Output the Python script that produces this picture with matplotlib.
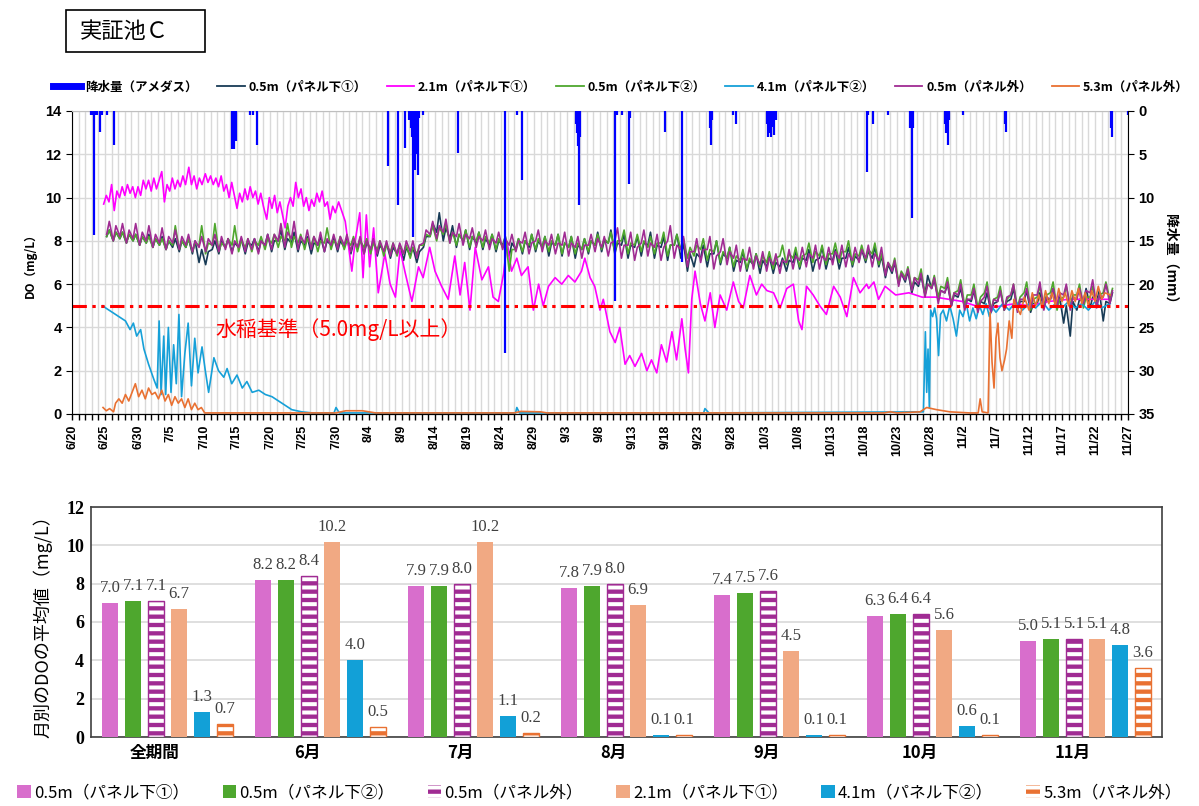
import numpy as np
import pandas as pd
import matplotlib
matplotlib.use('Agg')
import matplotlib.pyplot as plt
import matplotlib.dates as mdates
from matplotlib.patches import Rectangle
from matplotlib.lines import Line2D

plt.rcParams['font.family'] = ['Noto Sans CJK JP', 'DejaVu Sans']
plt.rcParams['hatch.linewidth'] = 2.9

NUM_FONT = ['Liberation Sans Narrow', 'Liberation Sans', 'DejaVu Sans']
SERIF = ['Liberation Serif', 'DejaVu Serif']

# ---------------- data: time series (day offset from 6/20) ----------------
base = pd.Timestamp('2023-06-20')

# hourly rain from AMeDAS (mm)
rain_day = [2.9, 3.1, 3.4, 3.6, 3.8, 4.2, 4.6, 5.3, 6.4, 24.3, 24.4, 24.6, 24.8,
            27.0, 27.4, 28.1, 47.9, 49.4, 50.5, 51.0, 51.3, 51.5, 51.7, 51.9,
            52.1, 52.4, 52.6, 53.2, 58.5, 65.6, 67.4, 68.2, 76.3, 76.5, 76.7,
            76.8, 77.0, 82.2, 82.6, 83.3, 84.4, 84.6, 89.8, 92.4, 96.7, 96.8,
            97.0, 100.1, 100.6, 105.3, 105.5, 105.7, 105.9, 106.1, 106.4, 106.6,
            120.4, 120.6, 121.3, 123.6, 126.9, 127.1, 127.3, 127.5, 132.3, 132.5,
            132.7, 132.9, 135.0, 141.3, 141.5, 157.4, 157.6, 160.0]
rain_mm = [0.5, 0.5, 14.3, 0.5, 0.5, 2.4, 0.5, 0.5, 3.9, 4.4, 4.0, 4.4, 3.5,
           0.5, 0.5, 3.9, 6.4, 10.9, 4.3, 1.0, 2.0, 3.0, 14.5, 6.8,
           5.0, 7.4, 0.8, 0.5, 4.9, 27.9, 0.5, 8.0, 1.5, 2.5, 4.0,
           10.9, 3.0, 22.0, 0.5, 0.5, 8.4, 0.8, 2.4, 17.4, 2.0, 3.9,
           1.0, 0.5, 1.5, 1.5, 3.0, 2.5, 3.0, 1.8, 2.8, 1.0,
           7.0, 0.5, 1.5, 0.5, 2.0, 1.5, 12.4, 2.0, 1.5, 2.5,
           3.9, 1.0, 0.5, 1.5, 2.4, 2.0, 3.0, 0.5]

# 0.5m sensors: daily afternoon peak (hi) and early-morning low (lo), from 6/25 (day 5)
p1_hi = [8.5, 8.4, 8.4, 8.3, 8.3, 8.2, 8.3, 8.1, 8.2, 8.0,
         8.1, 8.0, 8.1, 8.0, 7.6, 7.5, 8.0, 8.0, 8.1, 7.9,
         8.1, 7.9, 8.1, 8.0, 8.3, 8.0, 8.5, 8.1, 8.4, 8.0,
         8.2, 7.9, 8.2, 8.0, 8.2, 8.0, 8.1, 7.9, 8.1, 7.9,
         8.0, 7.8, 7.9, 7.7, 7.8, 7.7, 7.7, 7.5, 8.2, 8.8,
         9.3, 8.6, 8.7, 8.3, 8.5, 8.2, 8.4, 8.1, 8.3, 8.0,
         8.2, 7.9, 8.1, 8.0, 8.3, 8.0, 8.2, 7.9, 8.3, 7.9,
         8.2, 7.8, 8.1, 8.0, 8.4, 8.0, 8.5, 7.9, 8.3, 7.8,
         8.2, 7.9, 8.4, 7.8, 8.2, 7.8, 8.3, 7.9, 7.4, 7.4,
         7.8, 7.4, 8.0, 7.4, 7.7, 7.1, 7.5, 7.1, 7.4, 7.1,
         7.3, 7.0, 7.2, 7.1, 7.5, 7.2, 7.6, 7.1, 7.7, 7.2,
         7.6, 7.2, 7.7, 7.3, 7.6, 7.5, 7.7, 7.3, 6.9, 7.0,
         6.5, 6.6, 6.1, 6.4, 6.4, 6.2, 5.7, 6.0, 5.5, 5.8,
         5.3, 5.7, 5.2, 5.6, 5.1, 5.7, 5.2, 5.8, 5.2, 5.7,
         5.1, 5.6, 5.3, 5.8, 5.4, 5.0, 5.2, 5.3, 5.8, 5.4,
         5.7, 5.2, 5.6]
p1_lo = [8.2, 8.0, 8.1, 7.9, 8.0, 7.8, 7.9, 7.7, 7.8, 7.6,
         7.7, 7.5, 7.7, 7.4, 7.0, 6.9, 7.6, 7.4, 7.7, 7.5,
         7.7, 7.4, 7.8, 7.5, 7.8, 7.5, 8.0, 7.6, 7.9, 7.5,
         7.8, 7.4, 7.8, 7.5, 7.8, 7.5, 7.7, 7.4, 7.7, 7.4,
         7.6, 7.3, 7.5, 7.2, 7.4, 7.1, 7.3, 7.0, 7.7, 8.2,
         8.4, 8.0, 8.1, 7.7, 8.0, 7.6, 7.9, 7.6, 7.8, 7.5,
         7.8, 7.3, 7.6, 7.4, 7.7, 7.5, 7.7, 7.3, 7.8, 7.3,
         7.7, 7.2, 7.6, 7.4, 7.8, 7.5, 7.9, 7.4, 7.8, 7.2,
         7.7, 7.3, 7.8, 7.2, 7.7, 7.1, 7.8, 7.2, 6.6, 6.8,
         7.2, 6.8, 7.4, 6.9, 7.2, 6.6, 7.0, 6.6, 6.9, 6.5,
         6.8, 6.5, 6.8, 6.6, 7.0, 6.7, 7.1, 6.6, 7.2, 6.7,
         7.1, 6.7, 7.2, 6.8, 7.1, 7.0, 7.2, 6.8, 6.3, 6.5,
         6.0, 6.1, 5.6, 5.9, 5.5, 5.8, 5.3, 5.6, 5.0, 5.4,
         4.9, 5.2, 4.8, 5.1, 4.7, 5.2, 4.8, 5.3, 4.8, 5.2,
         4.7, 5.1, 4.9, 5.3, 4.9, 4.2, 3.6, 4.8, 5.2, 4.9,
         5.2, 4.3, 5.1]
p2_hi = [8.5, 8.4, 8.4, 8.3, 8.3, 8.2, 8.2, 8.1, 8.1, 8.0,
         8.7, 8.0, 8.1, 7.9, 8.7, 7.9, 8.8, 7.9, 8.1, 8.7,
         8.0, 8.1, 8.0, 8.2, 8.1, 8.3, 8.2, 8.8, 8.2, 8.3,
         8.1, 8.2, 8.0, 8.6, 8.0, 8.2, 8.0, 8.2, 8.0, 8.1,
         7.9, 8.0, 7.8, 7.9, 7.8, 7.8, 7.7, 7.8, 8.3, 8.7,
         8.6, 8.8, 8.4, 8.3, 8.5, 8.2, 8.4, 8.2, 8.3, 8.1,
         8.2, 7.6, 8.1, 8.0, 8.3, 8.1, 8.2, 8.0, 8.3, 7.9,
         8.2, 7.9, 8.1, 8.0, 8.3, 8.1, 8.4, 8.0, 8.5, 7.9,
         8.3, 8.0, 8.2, 7.9, 8.4, 7.8, 8.3, 8.1, 7.7, 7.8,
         8.1, 7.6, 8.0, 7.5, 7.7, 7.3, 7.6, 7.2, 7.4, 7.3,
         7.5, 7.2, 7.8, 7.4, 7.7, 7.3, 7.9, 7.5, 7.8, 7.4,
         7.9, 7.5, 8.0, 7.4, 7.8, 7.6, 7.9, 7.4, 7.0, 7.2,
         6.6, 6.8, 6.3, 6.7, 6.0, 6.4, 5.9, 6.3, 5.6, 6.2,
         5.5, 6.0, 5.4, 6.1, 5.3, 5.9, 5.3, 6.0, 5.4, 6.1,
         5.3, 5.9, 5.5, 6.1, 5.3, 5.9, 5.5, 6.0, 5.4, 5.9,
         5.5, 6.1, 5.8]
p2_lo = [8.2, 8.0, 8.1, 7.9, 8.0, 7.8, 7.9, 7.7, 7.8, 7.6,
         7.8, 7.6, 7.7, 7.5, 7.8, 7.4, 7.8, 7.5, 7.7, 7.8,
         7.5, 7.7, 7.5, 7.8, 7.6, 7.9, 7.7, 8.0, 7.7, 7.9,
         7.6, 7.8, 7.5, 7.9, 7.6, 7.8, 7.6, 7.8, 7.5, 7.7,
         7.4, 7.6, 7.3, 7.5, 7.3, 7.4, 7.2, 7.4, 7.8, 8.2,
         8.0, 8.3, 7.9, 7.8, 8.0, 7.7, 8.0, 7.7, 7.9, 7.6,
         7.7, 6.6, 7.6, 7.5, 7.8, 7.6, 7.7, 7.5, 7.8, 7.4,
         7.7, 7.4, 7.6, 7.5, 7.8, 7.6, 7.9, 7.5, 8.0, 7.4,
         7.8, 7.5, 7.7, 7.4, 7.9, 7.3, 7.8, 7.6, 7.2, 7.3,
         7.6, 7.1, 7.5, 7.0, 7.2, 6.8, 7.1, 6.7, 6.9, 6.8,
         7.0, 6.7, 7.3, 6.9, 7.2, 6.8, 7.4, 7.0, 7.3, 6.9,
         7.4, 7.0, 7.5, 6.9, 7.3, 7.1, 7.4, 6.9, 6.5, 6.7,
         6.1, 6.3, 5.8, 6.2, 5.5, 5.9, 5.4, 5.8, 5.1, 5.7,
         5.0, 5.5, 4.9, 5.6, 4.8, 5.4, 4.8, 5.5, 4.9, 5.6,
         4.8, 5.4, 5.0, 5.6, 4.8, 5.4, 5.0, 5.5, 4.9, 5.4,
         5.0, 5.6, 5.3]
out_hi = [8.9, 8.7, 8.8, 8.5, 8.8, 8.4, 8.7, 8.3, 8.6, 8.2,
          8.5, 8.2, 8.3, 8.0, 8.2, 8.1, 8.3, 8.2, 8.1, 8.0,
          8.2, 8.1, 8.1, 8.0, 8.3, 8.3, 8.8, 8.4, 8.9, 8.2,
          8.5, 8.2, 8.4, 8.1, 8.3, 8.2, 8.3, 8.1, 8.2, 8.0,
          8.1, 8.0, 8.0, 7.9, 7.9, 8.0, 8.0, 7.8, 8.5, 8.9,
          8.7, 9.0, 8.4, 8.8, 8.3, 8.6, 8.2, 8.5, 8.1, 8.4,
          8.1, 8.3, 8.0, 8.4, 7.9, 8.5, 8.0, 8.3, 7.9, 8.4,
          7.9, 8.2, 7.8, 8.3, 8.1, 8.2, 7.9, 8.6, 7.8, 8.4,
          7.7, 8.5, 7.9, 8.3, 7.7, 8.7, 7.8, 8.2, 7.5, 8.1,
          7.6, 8.2, 7.3, 8.1, 7.5, 7.8, 7.2, 7.7, 7.3, 7.5,
          7.2, 7.4, 7.1, 7.6, 7.3, 7.7, 7.4, 7.8, 7.3, 7.7,
          7.5, 7.8, 7.4, 7.7, 7.6, 7.8, 7.4, 7.7, 7.0, 7.1,
          6.5, 6.7, 6.3, 6.5, 6.0, 6.3, 5.7, 6.1, 5.6, 6.0,
          5.3, 5.8, 5.2, 5.9, 5.3, 5.7, 5.4, 6.0, 5.3, 5.8,
          5.5, 6.1, 5.4, 5.8, 5.6, 6.0, 5.4, 5.8, 5.7, 6.2,
          5.5, 6.0, 5.7]
out_lo = [8.3, 8.0, 8.2, 7.9, 8.1, 7.8, 8.0, 7.7, 7.9, 7.6,
          7.9, 7.6, 7.8, 7.5, 7.7, 7.5, 7.8, 7.5, 7.6, 7.4,
          7.7, 7.5, 7.6, 7.4, 7.8, 7.6, 8.0, 7.7, 8.1, 7.6,
          7.9, 7.6, 7.8, 7.5, 7.8, 7.6, 7.8, 7.5, 7.7, 7.4,
          7.6, 7.4, 7.5, 7.3, 7.4, 7.4, 7.5, 7.2, 7.9, 8.3,
          8.1, 8.4, 7.9, 8.2, 7.8, 8.1, 7.7, 8.0, 7.6, 7.9,
          7.6, 7.8, 7.5, 7.9, 7.4, 8.0, 7.5, 7.8, 7.4, 7.8,
          7.3, 7.7, 7.2, 7.8, 7.5, 7.7, 7.3, 8.0, 7.2, 7.8,
          7.1, 7.9, 7.3, 7.7, 7.1, 8.0, 7.2, 7.6, 6.8, 7.5,
          7.0, 7.6, 6.7, 7.5, 6.9, 7.2, 6.6, 7.1, 6.7, 6.9,
          6.6, 6.9, 6.5, 7.0, 6.7, 7.1, 6.8, 7.2, 6.7, 7.1,
          6.9, 7.2, 6.8, 7.1, 7.0, 7.2, 6.8, 7.1, 6.4, 6.6,
          5.9, 6.2, 5.7, 6.0, 5.4, 5.8, 5.1, 5.6, 5.0, 5.5,
          4.8, 5.3, 4.7, 5.4, 4.7, 5.2, 4.8, 5.5, 4.7, 5.3,
          4.9, 5.5, 4.8, 5.3, 5.0, 5.5, 4.8, 5.3, 5.1, 5.6,
          4.9, 5.4, 5.1]

# 2.1m (panel below 1)
d21_day = [4.8, 5.2, 5.6, 6.0, 6.4, 6.8, 7.2, 7.6, 8.0, 8.4, 8.8, 9.2, 9.6,
           10.0, 10.4, 10.8, 11.2, 11.6, 12.0, 12.4, 12.8, 13.2, 13.6, 14.0,
           14.4, 14.8, 15.2, 15.6, 16.0, 16.4, 16.8, 17.2, 17.7, 18.1, 18.5,
           18.9, 19.3, 19.7, 20.2, 20.6, 21.0, 21.4, 21.8, 22.2, 22.6, 23.0,
           23.4, 23.8, 24.2, 24.6, 25.0, 25.4, 25.8, 26.2, 26.6, 27.0, 27.4,
           27.8, 28.2, 28.6, 29.0, 29.5, 29.9, 30.3, 30.7, 31.1, 31.5, 31.9,
           32.3, 32.7, 33.1, 33.5, 33.9, 34.3, 34.7, 35.1, 35.5, 35.9, 36.3,
           36.7, 37.1, 37.5, 37.9, 38.3, 38.7, 39.1, 39.5, 39.9, 40.4, 41.4,
           42.4, 42.9, 43.6, 44.1, 44.6, 45.1, 45.7, 46.4, 47.4, 48.2, 49.0,
           49.7, 50.5, 51.5, 52.5, 53.2, 54.2, 55.0, 56.0, 57.0, 58.0, 58.8,
           59.5, 60.3, 61.1, 62.1, 63.1, 63.8, 64.6, 65.4, 65.9, 66.6, 67.4,
           68.1, 69.1, 69.9, 70.7, 71.4, 72.2, 73.2, 74.2, 75.2, 76.2, 77.2,
           77.7, 78.5, 79.2, 80.0, 80.5, 81.5, 82.3, 83.0, 83.8, 84.5, 85.3,
           86.3, 87.1, 87.8, 88.6, 89.3, 90.1, 90.9, 91.6, 92.4, 92.9, 93.4,
           93.9, 94.4, 95.2, 95.9, 96.7, 97.4, 98.2, 99.2, 100.2, 101.0, 101.7,
           102.7, 103.7, 104.5, 105.3, 106.3, 107.3, 108.3, 109.3, 110.1, 110.6,
           111.3, 112.3, 113.3, 114.3, 115.4, 116.4, 117.4, 118.4, 119.4, 120.4,
           120.7, 121.5, 122.2, 123.2, 124.8, 126.8, 128.8, 130.8, 132.8, 134.9,
           136.9, 138.9, 140.9, 142.9, 145.0, 148.0, 151.0, 154.0, 157.3]
d21_do = [9.7, 10.1, 9.8, 10.6, 9.4, 10.3, 10.0, 10.5, 10.1, 10.6, 10.2, 10.5, 10.0,
          10.5, 10.1, 10.8, 10.4, 10.8, 10.3, 10.9, 10.4, 10.8, 11.2, 9.8,
          10.6, 10.3, 10.9, 10.4, 10.8, 10.5, 11.0, 10.6, 11.4, 10.6, 11.0,
          10.4, 10.9, 10.6, 11.1, 10.7, 11.0, 10.6, 10.9, 10.5, 11.0, 10.3,
          10.6, 10.0, 10.7, 10.1, 9.5, 10.2, 9.8, 10.4, 9.9, 10.5, 10.0,
          10.3, 9.7, 10.2, 9.6, 9.0, 10.0, 9.5, 10.1, 9.3, 9.8, 9.2,
          8.6, 9.6, 10.0, 9.6, 10.7, 10.0, 10.4, 9.6, 10.0, 9.4, 9.9,
          9.6, 10.2, 9.8, 10.3, 9.6, 9.8, 9.0, 9.6, 9.3, 9.8, 8.9,
          6.6, 8.0, 9.3, 6.3, 9.2, 6.8, 8.6, 5.6, 7.4, 6.0, 5.4,
          7.6, 6.5, 5.2, 6.8, 6.3, 7.7, 6.6, 5.9, 5.3, 7.3, 5.5,
          7.0, 4.8, 7.7, 6.2, 6.8, 5.4, 5.2, 6.5, 7.9, 6.6, 7.2,
          6.4, 6.8, 4.8, 6.0, 5.0, 5.9, 6.3, 6.0, 6.4, 6.1, 6.6,
          7.2, 6.3, 5.9, 4.8, 5.3, 3.8, 3.3, 4.0, 2.3, 2.7, 2.2,
          2.8, 2.0, 2.5, 1.9, 3.2, 2.4, 3.8, 2.5, 4.4, 3.0, 1.9,
          5.3, 6.6, 5.1, 4.3, 5.6, 4.0, 5.5, 4.8, 6.1, 5.2, 4.9,
          6.4, 5.5, 6.0, 5.7, 5.6, 4.9, 5.8, 6.0, 4.3, 3.9,
          5.9, 5.5, 5.0, 4.6, 5.9, 5.4, 4.5, 6.3, 5.6, 6.0,
          5.8, 6.1, 5.3, 5.9, 5.5, 5.6, 5.4, 5.4, 5.3, 5.2,
          5.0, 4.9, 5.0, 5.1, 5.0, 5.2, 5.3, 5.3, 5.3]

# 4.1m (panel below 2)
d41_day = [4.7, 5.1, 6.1, 7.1, 8.1, 8.8, 9.3, 9.8, 10.4, 10.9, 11.6, 12.4,
           12.9, 13.2, 13.5, 13.9, 14.2, 14.6, 15.0, 15.4, 15.8, 16.2, 16.6,
           17.1, 17.6, 18.1, 18.6, 19.1, 19.7, 20.2, 20.7, 21.5, 22.2, 23.0,
           23.5, 24.2, 25.0, 25.8, 26.5, 27.3, 28.3, 29.3, 30.3, 31.3, 32.3,
           33.3, 34.8, 36.4, 39.7, 40.0, 40.5, 67.2, 67.4, 67.8, 95.7, 95.9,
           96.5, 129.0, 129.3, 129.5, 129.7, 129.9, 130.1, 130.4, 130.7, 131.0,
           131.3, 131.6, 132.0, 132.5, 133.0, 133.5, 134.0, 134.5, 135.0, 135.5,
           136.0, 136.5, 137.0, 137.5, 138.0, 138.5, 139.0, 139.5, 140.0, 141.0,
           142.0, 143.0, 144.0, 145.0, 146.0, 147.0, 148.0, 149.0, 150.0, 151.0,
           152.0, 153.0, 154.0, 155.0, 156.0, 157.3]
d41_do = [5.0, 4.9, 4.7, 4.5, 4.3, 3.9, 4.2, 3.6, 3.9, 3.0, 2.3, 1.6,
          1.2, 4.3, 0.9, 3.6, 0.9, 4.0, 1.0, 3.2, 1.4, 4.6, 0.8,
          2.8, 4.2, 1.3, 3.5, 1.9, 3.1, 2.0, 1.0, 2.6, 2.0, 1.7,
          2.1, 1.4, 1.8, 1.2, 1.5, 1.0, 1.1, 0.9, 0.8, 0.6, 0.4,
          0.2, 0.1, 0.05, 0.05, 0.3, 0.05, 0.05, 0.3, 0.05, 0.05, 0.25,
          0.05, 0.1, 3.8, 1.0, 3.0, 0.3, 4.8, 4.5, 4.9, 4.4,
          2.7, 4.6, 4.8, 4.3, 5.0, 4.4, 3.6, 4.8, 4.5, 5.1,
          4.3, 4.9, 4.4, 5.0, 4.6, 5.1, 4.5, 4.9, 4.7, 5.1,
          4.8, 5.2, 4.8, 5.1, 4.9, 5.2, 4.8, 5.1, 4.9, 5.2,
          4.9, 5.1, 4.8, 5.2, 4.9, 5.1]

# 5.3m (outside panels)
d53_day = [4.7, 5.2, 5.7, 6.3, 6.6, 7.1, 7.6, 8.1, 8.6, 9.1, 9.6, 10.1, 10.6,
           11.1, 11.6, 12.1, 12.6, 13.1, 13.6, 14.1, 14.6, 15.1, 15.6, 16.1,
           16.6, 17.1, 17.6, 18.1, 18.6, 19.1, 19.6, 20.1, 21.0, 40.0, 41.5,
           44.0, 46.0, 67.0, 68.0, 71.0, 72.0, 123.0, 124.0, 125.0, 128.5,
           129.5, 131.0, 133.0, 136.0, 137.3, 137.6, 137.9, 138.8, 139.1, 139.4,
           139.7, 140.0, 140.3, 140.6, 140.9, 141.3, 141.6, 142.0, 142.4, 142.7,
           143.2, 143.7, 144.3, 145.0, 145.5, 146.0, 146.5, 147.0, 147.5, 148.0,
           148.5, 149.0, 149.5, 150.0, 150.5, 151.0, 151.5, 152.0, 152.5, 153.0,
           153.5, 154.0, 154.5, 155.0, 155.5, 156.0, 156.5, 157.3]
d53_do = [0.3, 0.15, 0.25, 0.1, 0.5, 0.7, 0.5, 0.9, 0.6, 1.0, 1.4, 0.8, 1.1,
          0.7, 1.2, 0.9, 1.0, 0.7, 1.1, 0.6, 0.9, 0.4, 0.8, 0.5,
          0.7, 0.3, 0.7, 0.2, 0.5, 0.2, 0.3, 0.05, 0.05, 0.05, 0.15,
          0.15, 0.05, 0.05, 0.12, 0.1, 0.05, 0.05, 0.1, 0.05, 0.1,
          0.3, 0.2, 0.1, 0.05, 0.05, 0.7, 0.1, 0.05, 4.7, 2.4,
          1.2, 3.5, 4.2, 2.6, 2.0, 2.5, 3.0, 4.3, 3.5, 5.3,
          4.9, 4.6, 5.4, 4.8, 5.6, 5.0, 5.5, 4.9, 5.7, 5.1,
          5.6, 5.0, 5.8, 5.2, 5.6, 5.0, 5.7, 5.2, 5.8, 5.1,
          5.6, 5.0, 5.7, 5.2, 5.9, 5.3, 5.6, 5.5]

# ---------------- data: monthly averages ----------------
periods = ['全期間', '6月', '7月', '8月', '9月', '10月', '11月']
avg_05_p1 = [7.0, 8.2, 7.9, 7.8, 7.4, 6.3, 5.0]
avg_05_p2 = [7.1, 8.2, 7.9, 7.9, 7.5, 6.4, 5.1]
avg_05_out = [7.1, 8.4, 8.0, 8.0, 7.6, 6.4, 5.1]
avg_21_p1 = [6.7, 10.2, 10.2, 6.9, 4.5, 5.6, 5.1]
avg_41_p2 = [1.3, 4.0, 1.1, 0.1, 0.1, 0.6, 4.8]
avg_53_out = [0.7, 0.5, 0.2, 0.1, 0.1, 0.1, 3.6]

C_NAVY = '#183B56'
C_MAG = '#FF00FF'
C_GREEN = '#4EA72E'
C_CYAN = '#16A0D8'
C_PURP = '#A02B93'
C_ORNG = '#E97132'


def to_dt(days):
    return base + pd.to_timedelta(np.asarray(days, dtype=float), unit='D')


def day_night(lo, hi):
    # morning minimum ~06:00, afternoon maximum ~15:30, starting 6/25
    d = 5 + np.arange(len(lo))
    t = np.column_stack([d + 0.25, d + 0.65]).ravel()
    v = np.column_stack([lo, hi]).ravel()
    return to_dt(t), v


fig = plt.figure(figsize=(11.99, 8.06), dpi=100)

# title box
fig.add_artist(Rectangle((66 / 1199, 1 - 52 / 806), 139 / 1199, 42 / 806,
                         transform=fig.transFigure, fill=False, lw=1.2, ec='black'))
fig.text(80 / 1199, 1 - 31 / 806, '実証池Ｃ', fontsize=16, va='center', ha='left')

# ---------------- top: time series ----------------
ax = fig.add_axes([72 / 1199, 1 - 414 / 806, 1056 / 1199, 303 / 806])

ax.plot(*day_night(p1_lo, p1_hi), color=C_NAVY, lw=1.2)
ax.plot(to_dt(d21_day), d21_do, color=C_MAG, lw=1.2)
ax.plot(*day_night(p2_lo, p2_hi), color=C_GREEN, lw=1.2)
ax.plot(to_dt(d41_day), d41_do, color=C_CYAN, lw=1.2)
ax.plot(*day_night(out_lo, out_hi), color=C_PURP, lw=1.2)
ax.plot(to_dt(d53_day), d53_do, color=C_ORNG, lw=1.2)

ax.axhline(5.0, color='red', lw=2.2, dashes=(4.7, 1.8, 1.1, 1.8, 1.1, 1.8))
ax.text(to_dt([21.7])[0], 3.9, '水稲基準（5.0mg/L以上）', color='red',
        fontsize=15, va='center', ha='left')

ax.set_xlim(to_dt([0])[0], to_dt([160])[0])
ax.set_ylim(0, 14)
ax.set_yticks(range(0, 15, 2))
major = pd.date_range(base, periods=33, freq='5D')
ax.set_xticks(major)
ax.set_xticklabels([f'{t.month}/{t.day}' for t in major], rotation=90,
                   fontsize=9, fontweight='bold', family=NUM_FONT)
ax.xaxis.set_minor_locator(mdates.DayLocator())
ax.tick_params(axis='x', which='both', length=4, direction='out', width=1)
ax.tick_params(axis='y', length=4, labelsize=10.5)
for lab in ax.get_yticklabels():
    lab.set_fontweight('bold')
    lab.set_family(NUM_FONT)
ax.grid(axis='x', which='both', color='#D9D9D9', lw=1)
ax.grid(axis='y', which='major', color='#D9D9D9', lw=1)
ax.set_axisbelow(True)
ax.spines['top'].set_color('#BFBFBF')
ax.spines['right'].set_visible(False)
ax.set_ylabel('DO（mg/L）', fontsize=8.5, fontweight='bold', labelpad=6)

ax2 = ax.twinx()
ax2.vlines(to_dt(rain_day), 0, rain_mm, color='#0000FF', lw=1.6)
ax2.set_ylim(35, 0)
ax2.set_yticks(range(0, 36, 5))
ax2.tick_params(axis='y', length=4, labelsize=10.5)
for lab in ax2.get_yticklabels():
    lab.set_fontweight('bold')
    lab.set_family(NUM_FONT)
ax2.spines['top'].set_visible(False)
ax2.spines['left'].set_visible(False)
ax2.set_ylabel('降水量（mm）', fontsize=10, fontweight='bold', rotation=270,
               labelpad=16)

top_handles = [
    Line2D([], [], color='#0000FF', lw=5),
    Line2D([], [], color=C_NAVY, lw=1.3),
    Line2D([], [], color=C_MAG, lw=1.3),
    Line2D([], [], color=C_GREEN, lw=1.3),
    Line2D([], [], color=C_CYAN, lw=1.3),
    Line2D([], [], color=C_PURP, lw=1.3),
    Line2D([], [], color=C_ORNG, lw=1.3),
]
top_labels = ['降水量（アメダス）', '0.5m（パネル下①）', '2.1m（パネル下①）',
              '0.5m（パネル下②）', '4.1m（パネル下②）', '0.5m（パネル外）',
              '5.3m（パネル外）']
fig.legend(top_handles, top_labels, loc='center', bbox_to_anchor=(0.518, 1 - 87 / 806),
           ncol=7, frameon=False, handlelength=2.2, handletextpad=0.3,
           columnspacing=1.6, prop={'weight': 'bold', 'size': 9})

# ---------------- bottom: monthly averages ----------------
bx = fig.add_axes([91 / 1199, 1 - 737 / 806, 1071 / 1199, 230 / 806])
x = np.arange(len(periods))
step = 0.15
w = 0.101
series = [
    (avg_05_p1, '0.5m（パネル下①）', '#D86ECC', None),
    (avg_05_p2, '0.5m（パネル下②）', C_GREEN, None),
    (avg_05_out, '0.5m（パネル外）', C_PURP, '--'),
    (avg_21_p1, '2.1m（パネル下①）', '#F1A983', None),
    (avg_41_p2, '4.1m（パネル下②）', '#12A0D7', None),
    (avg_53_out, '5.3m（パネル外）', C_ORNG, '--'),
]
bar_handles = []
for k, (vals, name, col, hatch) in enumerate(series):
    pos = x + (k - 2.5) * step
    if hatch:
        bars = bx.bar(pos, vals, w, color=col, edgecolor='white', hatch=hatch,
                      lw=0, label=name, zorder=3)
        bx.bar(pos, vals, w, fill=False, edgecolor=col, lw=1, zorder=4)
    else:
        bars = bx.bar(pos, vals, w, color=col, lw=0, label=name, zorder=3)
    bar_handles.append(bars)
    for px, v in zip(pos, vals):
        bx.annotate(f'{v:.1f}', (px, v), xytext=(0, 5), textcoords='offset points',
                    ha='center', va='bottom', fontsize=12, color='#404040',
                    family=SERIF)

bx.set_xlim(-0.5, len(periods) - 0.5)
bx.set_ylim(0, 12)
bx.set_yticks(range(0, 13, 2))
bx.set_xticks(x - 0.085)
bx.set_xticklabels(periods, fontsize=12, fontweight='bold')
bx.tick_params(axis='both', length=0, pad=5)
bx.tick_params(axis='y', labelsize=13)
for lab in bx.get_yticklabels():
    lab.set_family(SERIF)
    lab.set_fontweight('bold')
bx.grid(axis='y', color='#D9D9D9', lw=1.2, zorder=0)
bx.set_axisbelow(True)
for sp in bx.spines.values():
    sp.set_color('#404040')
    sp.set_linewidth(1.2)
bx.set_ylabel('月別のDOの平均値（mg/L）', fontsize=13, labelpad=10)

fig.legend(bar_handles, [s[1] for s in series], loc='center',
           bbox_to_anchor=(0.5, 1 - 793 / 806), ncol=6, frameon=False,
           fontsize=12, handlelength=0.8, handleheight=0.8, handletextpad=0.2,
           columnspacing=2.0)

fig.savefig('out.png', dpi=100)
